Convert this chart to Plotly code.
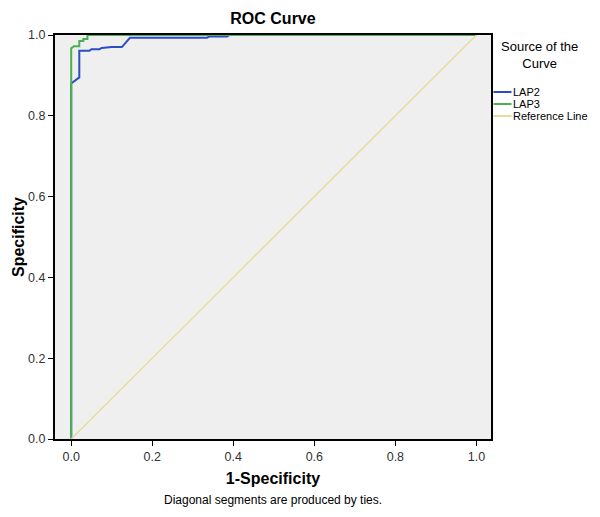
import plotly.graph_objects as go

# ROC curve data (1-Specificity, Specificity)
lap2_x = [0.0, 0.0, 0.02, 0.02, 0.045, 0.05, 0.07, 0.075, 0.10, 0.125, 0.145, 0.335, 0.34, 0.385, 0.39, 1.0]
lap2_y = [0.0, 0.88, 0.895, 0.961, 0.961, 0.965, 0.965, 0.968, 0.970, 0.970, 0.993, 0.993, 0.996, 0.996, 1.0, 1.0]

lap3_x = [0.0, 0.0, 0.007, 0.02, 0.02, 0.03, 0.03, 0.04, 0.04, 1.0]
lap3_y = [0.0, 0.967, 0.972, 0.972, 0.985, 0.985, 0.99, 0.99, 1.0, 1.0]

ref_x = [0.0, 1.0]
ref_y = [0.0, 1.0]

x_ticks = [0.0, 0.2, 0.4, 0.6, 0.8, 1.0]
y_ticks = [0.0, 0.2, 0.4, 0.6, 0.8, 1.0]

series_names = ["LAP2", "LAP3", "Reference Line"]
series_colors = ["#2b4ec2", "#4cb050", "#e8dc9c"]

FONT = "Liberation Sans, Arial"

fig = go.Figure()
fig.add_trace(go.Scatter(x=lap2_x, y=lap2_y, mode="lines", name=series_names[0],
                         line=dict(color=series_colors[0], width=2)))
fig.add_trace(go.Scatter(x=lap3_x, y=lap3_y, mode="lines", name=series_names[1],
                         line=dict(color=series_colors[1], width=2)))
fig.add_trace(go.Scatter(x=ref_x, y=ref_y, mode="lines", name=series_names[2],
                         line=dict(color=series_colors[2], width=1.5)))

axis_common = dict(showline=True, linecolor="black", linewidth=2, mirror=True,
                   ticks="outside", ticklen=5, tickcolor="black", tickwidth=1,
                   showgrid=False, zeroline=False, automargin=False,
                   tickfont=dict(family=FONT, size=12.5, color="#333"))

# page has an 8px body margin: screen position = figure position + 8
OFF = 8
W, H = 600, 517
ml, mt = 55 - OFF, 35 - OFF
pw, ph = 436.5, 404
mr = W - ml - pw
mb = H - mt - ph

def sx(px):  # screen px -> plot paper x
    return (px - OFF - ml) / pw

def sy(py):  # screen px -> plot paper y
    return (mt + ph - (py - OFF)) / ph

annotations = [
    dict(text="Diagonal segments are produced by ties.", xref="paper", yref="paper",
         x=sx(273), y=sy(500), xanchor="center", yanchor="middle",
         showarrow=False, font=dict(family=FONT, size=12, color="black")),
    dict(text="Source of the<br>Curve", xref="paper", yref="paper",
         x=sx(540), y=sy(55), xanchor="center", yanchor="middle",
         showarrow=False, align="center", font=dict(family=FONT, size=13, color="black")),
]
shapes = []
for i, (nm, col) in enumerate(zip(series_names, series_colors)):
    yy = sy(92 + 12 * i)
    shapes.append(dict(type="line", xref="paper", yref="paper",
                       x0=sx(494), x1=sx(512), y0=yy, y1=yy,
                       line=dict(color=col, width=2)))
    annotations.append(dict(text=nm, xref="paper", yref="paper",
                            x=sx(512), y=yy, xanchor="left", yanchor="middle",
                            showarrow=False, font=dict(family=FONT, size=11, color="black")))

fig.update_layout(
    width=W, height=H,
    margin=dict(l=ml, r=mr, t=mt, b=mb),
    paper_bgcolor="white",
    plot_bgcolor="#efefef",
    showlegend=False,
    title=dict(text="<b>ROC Curve</b>", x=(273 - OFF) / W, xanchor="center",
               y=1 - (18 - OFF) / H, yanchor="middle",
               font=dict(family=FONT, size=16, color="black")),
    xaxis=dict(range=[-0.04, 1.036], tickvals=x_ticks, tickformat=".1f",
               title=dict(text="<b>1-Specificity</b>", standoff=10,
                          font=dict(family=FONT, size=16, color="black")),
               **axis_common),
    yaxis=dict(range=[0, 1.0], tickvals=y_ticks, tickformat=".1f",
               title=dict(text="<b>Specificity</b>", standoff=0,
                          font=dict(family=FONT, size=16, color="black")),
               **axis_common),
    annotations=annotations,
    shapes=shapes,
)

fig.write_html("out.html")
